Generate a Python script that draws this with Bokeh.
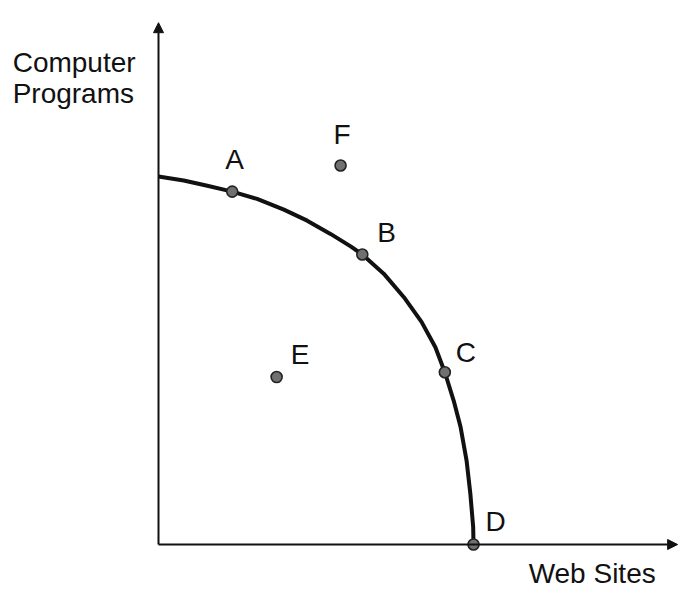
from bokeh.plotting import figure
from bokeh.models import Arrow, NormalHead, ColumnDataSource, Label, Range1d
from bokeh.core.properties import value
from bokeh.embed import file_html
from bokeh.resources import INLINE

# Production possibilities frontier
curve_x = [0.0, 0.80, 1.55, 2.34, 3.13, 3.98, 4.72, 5.46, 6.10, 6.47, 7.15, 7.79, 8.35, 8.79, 9.09, 9.37, 9.59, 9.78, 9.90, 9.99, 10.0]
curve_y = [10.0, 9.89, 9.75, 9.59, 9.39, 9.10, 8.80, 8.44, 8.10, 7.88, 7.36, 6.72, 6.05, 5.36, 4.68, 3.91, 3.19, 2.28, 1.38, 0.47, 0.0]

pt_names = ["A", "B", "C", "D", "E", "F"]
pt_x = [2.34, 6.47, 9.09, 10.0, 3.75, 5.78]
pt_y = [9.59, 7.88, 4.68, 0.0, 4.55, 10.30]

x_axis_label = "Web Sites"
y_axis_label = ["Computer", "Programs"]

# label offsets in pixels (style)
lab_dx = [-7, 15, 11, 12, 14, -7]
lab_dy = [-32, -22, -20, -23, -23, -31]

FONT = "Liberation Sans"
FS = "28px"
INK = "#111111"

p = figure(width=679, height=589, output_backend="svg", toolbar_location=None,
           x_range=Range1d(-158 / 31.5, 521 / 31.5), y_range=Range1d(-45 / 36.8, 544 / 36.8),
           min_border=0)
p.axis.visible = False
p.grid.visible = False
p.outline_line_color = None
p.background_fill_color = "white"

# axes with arrow heads
p.add_layout(Arrow(x_start=0, y_start=0, x_end=0, y_end=14.18, line_width=2, line_color=INK,
                   end=NormalHead(size=10, fill_color=INK, line_color=INK)))
p.add_layout(Arrow(x_start=0, y_start=0, x_end=16.48, y_end=0, line_width=2, line_color=INK,
                   end=NormalHead(size=10, fill_color=INK, line_color=INK)))

p.line(curve_x, curve_y, line_width=4, line_color=INK, line_join="round")

src = ColumnDataSource(dict(x=pt_x, y=pt_y, name=pt_names, dx=lab_dx, dy=lab_dy))
p.scatter("x", "y", source=src, size=11, fill_color="#707070", line_color="#222222", line_width=1.6)
p.text("x", "y", text="name", source=src, x_offset="dx", y_offset="dy",
       text_font=value(FONT), text_font_size=FS, text_color=INK,
       text_align="left", text_baseline="middle")

p.add_layout(Label(x=-4.63, y=13.10, text=y_axis_label[0], text_font=FONT, text_font_size=FS,
                   text_color=INK, text_baseline="middle"))
p.add_layout(Label(x=-4.63, y=12.26, text=y_axis_label[1], text_font=FONT, text_font_size=FS,
                   text_color=INK, text_baseline="middle"))
p.add_layout(Label(x=11.75, y=-0.79, text=x_axis_label, text_font=FONT, text_font_size=FS,
                   text_color=INK, text_baseline="middle"))

open("out.html", "w").write(file_html(p, INLINE))
